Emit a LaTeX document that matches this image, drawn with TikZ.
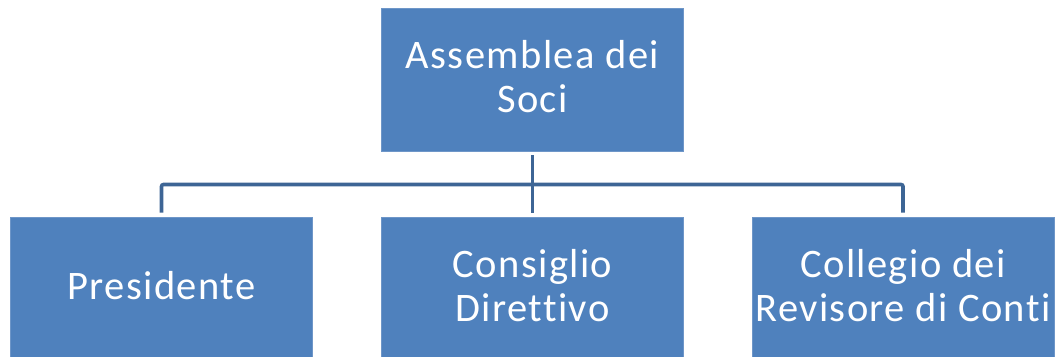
\documentclass[tikz,border=0pt]{standalone}
\usepackage{fontspec}
\setmainfont[Ligatures=NoCommon,LetterSpace=3.5]{Carlito}
\definecolor{boxblue}{HTML}{4F81BD}
\definecolor{boxedge}{HTML}{6E96C8}
\definecolor{linecol}{HTML}{3D6595}
\begin{document}
\begin{tikzpicture}[x=1pt,y=-1pt,
  orgbox/.style={rectangle, fill=boxblue, draw=boxedge, line width=0.8pt, text=white,
    minimum width=302pt, minimum height=143pt, inner sep=0pt, align=center,
    font=\fontsize{40.5}{44}\selectfont,
    execute at end node={\rule[-6pt]{0pt}{6pt}}},
  conn/.style={draw=linecol, line width=3.6pt, rounded corners=2pt}]
\useasboundingbox (0,0) rectangle (1064,356);
\clip (0,0) rectangle (1064,356);
\node[orgbox] (top) at (532.5,79.5) {Assemblea dei\\Soci};
\node[orgbox] (pres) at (161.5,288.5) {Presidente};
\node[orgbox] (cons) at (532.5,288.5) {Consiglio\\Direttivo};
\node[orgbox] (coll) at (903,288.5) {Collegio dei\\Revisore di Conti};
\coordinate (bus) at (532.5,184.5);
\draw[conn] ([yshift=-4pt]top.south) -- ([yshift=4pt]cons.north);
\draw[conn] ([yshift=4pt]pres.north) |- (bus) -| ([yshift=4pt]coll.north);
\end{tikzpicture}
\end{document}
